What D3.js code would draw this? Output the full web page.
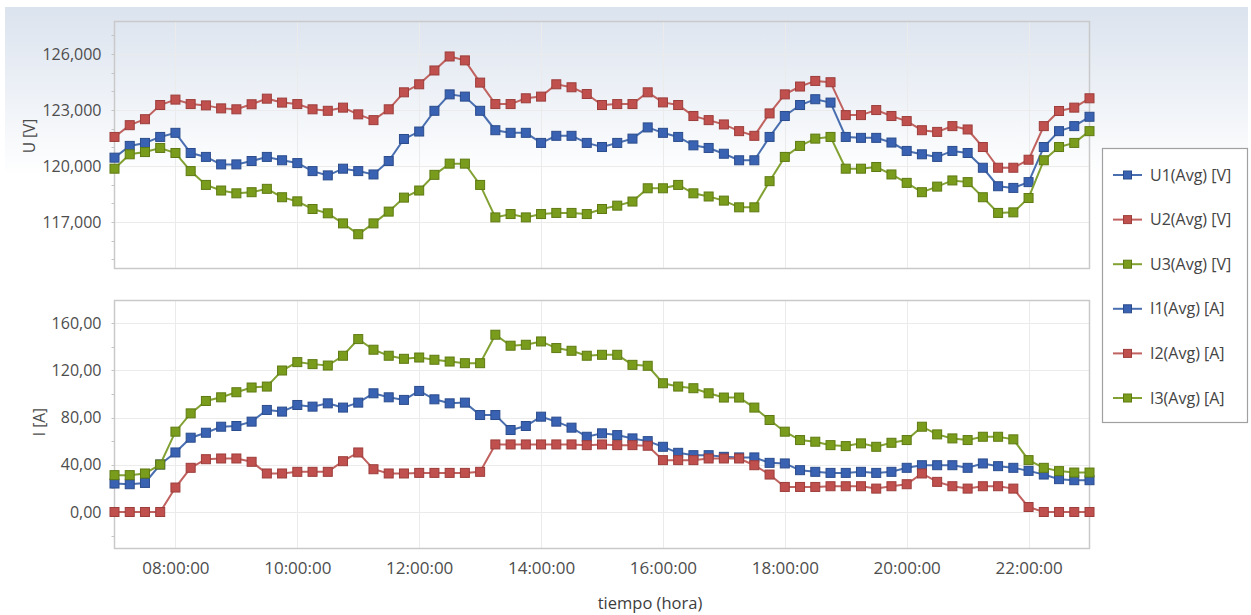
<!DOCTYPE html>
<html>
<head>
<meta charset="utf-8">
<script src="https://cdn.jsdelivr.net/npm/d3@7"></script>
<style>
  html, body { margin: 0; padding: 0; background: #ffffff; }
  svg { display: block; }
  text { font-family: "Open Sans", "Noto Sans", sans-serif; }
</style>
</head>
<body>
<svg id="chart" width="1251" height="615"></svg>
<script>
// Sample times (15-minute averages)
const times = [
  "07:00","07:15","07:30","07:45","08:00","08:15","08:30","08:45",
  "09:00","09:15","09:30","09:45","10:00","10:15","10:30","10:45",
  "11:00","11:15","11:30","11:45","12:00","12:15","12:30","12:45",
  "13:00","13:15","13:30","13:45","14:00","14:15","14:30","14:45",
  "15:00","15:15","15:30","15:45","16:00","16:15","16:30","16:45",
  "17:00","17:15","17:30","17:45","18:00","18:15","18:30","18:45",
  "19:00","19:15","19:30","19:45","20:00","20:15","20:30","20:45",
  "21:00","21:15","21:30","21:45","22:00","22:15","22:30","22:45",
  "23:00"
];

// Phase voltages [V]
const u1 = [
  120.45,121.08,121.24,121.56,121.78,120.70,120.49,120.09,
  120.09,120.27,120.49,120.31,120.16,119.73,119.50,119.86,
  119.73,119.55,120.27,121.45,121.85,122.96,123.84,123.72,
  122.96,121.92,121.78,121.78,121.24,121.62,121.62,121.24,
  121.02,121.24,121.47,122.07,121.78,121.56,121.11,120.97,
  120.66,120.31,120.31,121.56,122.68,123.27,123.58,123.40,
  121.56,121.51,121.51,121.26,120.81,120.63,120.49,120.81,
  120.70,119.91,118.92,118.83,119.14,121.02,121.87,122.14,
  122.64
];
const u2 = [
  121.56,122.19,122.51,123.27,123.56,123.32,123.25,123.09,
  123.04,123.31,123.61,123.40,123.32,123.04,122.96,123.13,
  122.77,122.46,123.04,123.95,124.38,125.12,125.87,125.66,
  124.47,123.32,123.32,123.63,123.72,124.38,124.22,123.86,
  123.27,123.32,123.32,123.95,123.41,123.27,122.68,122.46,
  122.23,121.87,121.62,122.82,123.84,124.26,124.56,124.49,
  122.73,122.73,123.00,122.68,122.41,121.92,121.83,122.14,
  121.96,121.02,119.91,119.91,120.34,122.14,122.95,123.13,
  123.63
];
const u3 = [
  119.86,120.63,120.75,120.97,120.70,119.73,118.99,118.69,
  118.54,118.60,118.78,118.33,118.11,117.70,117.47,116.93,
  116.35,116.93,117.56,118.31,118.69,119.53,120.13,120.13,
  118.99,117.25,117.43,117.25,117.43,117.49,117.49,117.43,
  117.70,117.88,118.10,118.81,118.81,118.99,118.54,118.37,
  118.15,117.79,117.79,119.19,120.49,121.08,121.47,121.56,
  119.86,119.86,119.95,119.55,119.10,118.60,118.90,119.23,
  119.14,118.33,117.49,117.52,118.29,120.31,121.02,121.24,
  121.87
];

// Phase currents [A]
const i1 = [
  24.1,23.5,24.6,40.2,50.4,62.9,67.1,72.2,
  72.8,76.5,86.4,85.0,90.6,89.2,92.0,88.4,
  92.6,100.5,97.1,94.9,102.5,95.4,92.0,92.6,
  82.1,82.1,69.4,72.8,80.7,76.5,71.4,63.7,
  66.6,65.1,62.3,60.0,55.2,50.1,48.1,48.1,
  46.7,46.2,46.2,41.6,41.1,35.4,34.0,33.1,
  33.1,34.0,33.1,34.0,37.4,39.6,39.6,39.6,
  37.4,41.1,38.8,37.4,34.8,31.7,27.8,26.9,
  26.9
];
const i2 = [
  0,0,0,0,20.7,37.4,44.7,45.3,
  45.3,42.5,32.6,32.6,34.0,34.0,34.0,43.0,
  50.4,36.2,32.6,32.6,33.1,33.1,33.1,33.1,
  34.0,57.2,57.2,57.2,57.2,57.2,57.2,56.6,
  57.2,56.6,56.6,56.1,43.9,43.9,43.9,45.3,
  45.3,45.3,39.6,31.7,21.2,21.2,21.2,21.8,
  21.8,21.8,19.8,21.8,23.5,32.6,25.5,21.8,
  19.8,21.8,21.8,19.8,4.2,0,0,0,
  0
];
const i3 = [
  31.2,31.2,32.6,40.2,68.0,83.5,94.0,97.1,
  101.4,105.4,106.2,119.8,126.9,125.2,124.0,132.3,
  146.4,137.4,132.3,129.7,130.8,128.9,127.4,126.0,
  126.0,150.1,140.8,141.6,144.4,138.8,136.5,132.3,
  133.1,133.1,124.6,123.8,109.0,106.2,104.8,100.5,
  96.9,96.9,88.4,77.9,68.0,60.9,59.5,56.6,
  55.8,58.1,55.2,58.6,60.9,72.2,65.7,62.3,
  60.9,63.7,63.7,61.5,43.9,37.4,34.6,33.4,
  33.4
];

// Axis ticks and labels
const timeTicks = ["08:00","10:00","12:00","14:00","16:00","18:00","20:00","22:00"];
const uTicks = [117, 120, 123, 126];
const iTicks = [0, 40, 80, 120, 160];
const seriesNames = ["U1(Avg) [V]","U2(Avg) [V]","U3(Avg) [V]","I1(Avg) [A]","I2(Avg) [A]","I3(Avg) [A]"];

const palette = {
  blue:  { line: "#4a6fb0", fill: "#3a62b2", edge: "#2b4c8c" },
  red:   { line: "#c0625f", fill: "#c0504d", edge: "#9c3d3b" },
  green: { line: "#82a133", fill: "#7a9c1c", edge: "#5e7a12" }
};

const parse = d3.timeParse("%H:%M");
const tDates = times.map(parse);

const esLocale = d3.formatLocale({ decimal: ",", thousands: ".", grouping: [3], currency: ["", "€"] });
const fmtU = esLocale.format(".3f");
const fmtI = esLocale.format(".2f");
const fmtT = d3.timeFormat("%H:%M:%S");

const svg = d3.select("#chart");

// Background: soft blue wash fading to white
const defs = svg.append("defs");
const bg = defs.append("linearGradient").attr("id", "bgGrad")
  .attr("x1", 0).attr("y1", 0).attr("x2", 0).attr("y2", 1);
bg.append("stop").attr("offset", "0%").attr("stop-color", "#dbe3ee");
bg.append("stop").attr("offset", "28%").attr("stop-color", "#ffffff");
bg.append("stop").attr("offset", "100%").attr("stop-color", "#ffffff");
svg.append("rect").attr("x", 5).attr("y", 7).attr("width", 1243).attr("height", 608)
  .attr("fill", "url(#bgGrad)");

const x = d3.scaleTime()
  .domain([parse("07:00"), parse("23:00")])
  .range([114.5, 1089.5]);

const panels = [
  { key: "U", top: 21, bottom: 268, domain: [114.54, 127.77], ticks: uTicks, minor: d3.range(115, 128, 1),
    fmt: fmtU, title: "U [V]", titleX: 30, titleY: 136,
    series: [ { v: u1, c: palette.blue }, { v: u2, c: palette.red }, { v: u3, c: palette.green } ] },
  { key: "I", top: 300, bottom: 548, domain: [-30.5, 179.5], ticks: iTicks, minor: d3.range(-20, 180, 20),
    fmt: fmtI, title: "I [A]", titleX: 40, titleY: 422,
    series: [ { v: i1, c: palette.blue }, { v: i2, c: palette.red }, { v: i3, c: palette.green } ] }
];

const left = 114.5, right = 1089.5;
const xTickDates = timeTicks.map(parse);

panels.forEach(p => {
  const y = d3.scaleLinear().domain(p.domain).range([p.bottom, p.top]);
  const g = svg.append("g").attr("class", "panel-" + p.key);

  // grid
  g.append("g").selectAll("line.hg").data(p.ticks).join("line")
    .attr("x1", left).attr("x2", right)
    .attr("y1", d => Math.round(y(d)) + 0.5).attr("y2", d => Math.round(y(d)) + 0.5)
    .attr("stroke", "#ebebeb").attr("stroke-width", 1);
  g.append("g").selectAll("line.vg").data(xTickDates).join("line")
    .attr("x1", d => Math.round(x(d)) + 0.5).attr("x2", d => Math.round(x(d)) + 0.5)
    .attr("y1", p.top).attr("y2", p.bottom)
    .attr("stroke", "#ebebeb").attr("stroke-width", 1);

  // frame
  g.append("rect").attr("x", left).attr("y", p.top + 0.5)
    .attr("width", right - left).attr("height", p.bottom - p.top)
    .attr("fill", "none").attr("stroke", "#c9c9c9").attr("stroke-width", 1.5);

  // y axis with minor ticks
  const yAxis = d3.axisLeft(y).tickValues(p.ticks).tickFormat(p.fmt).tickSize(0).tickPadding(13);
  const ya = g.append("g").attr("transform", `translate(${left},0)`).call(yAxis);
  ya.select(".domain").remove();
  ya.selectAll("text").attr("fill", "#4d4d4d").style("font-size", "16px");
  g.append("g").selectAll("line.mt").data(p.minor).join("line")
    .attr("x1", left - 3).attr("x2", left)
    .attr("y1", d => Math.round(y(d)) + 0.5).attr("y2", d => Math.round(y(d)) + 0.5)
    .attr("stroke", "#c4c4c4");

  // y title
  g.append("text")
    .attr("transform", `translate(${p.titleX},${p.titleY}) rotate(-90)`)
    .attr("text-anchor", "middle").attr("dy", "0.35em")
    .attr("fill", "#4d4d4d").style("font-size", "15.5px")
    .text(p.title);

  // series
  const line = d3.line().x((d, k) => x(tDates[k])).y(d => y(d));
  p.series.forEach(s => {
    g.append("path").datum(s.v)
      .attr("d", line)
      .attr("fill", "none").attr("stroke", s.c.line).attr("stroke-width", 2);
    g.append("g").selectAll("rect").data(s.v).join("rect")
      .attr("x", (d, k) => x(tDates[k]) - 4.5)
      .attr("y", d => y(d) - 4.5)
      .attr("width", 9).attr("height", 9)
      .attr("fill", s.c.fill).attr("stroke", s.c.edge).attr("stroke-width", 1);
  });

  // x axis labels only under the lower panel
  if (p.key === "I") {
    const xAxis = d3.axisBottom(x).tickValues(xTickDates).tickFormat(fmtT).tickSize(0).tickPadding(14);
    const xa = g.append("g").attr("transform", `translate(0,${p.bottom})`).call(xAxis);
    xa.select(".domain").remove();
    xa.selectAll("text").attr("fill", "#4d4d4d").style("font-size", "17px");
  }
});

svg.append("text").attr("x", 650).attr("y", 609)
  .attr("text-anchor", "middle").attr("fill", "#3d3d3d").style("font-size", "16.5px")
  .text("tiempo (hora)");

// Legend
const legend = svg.append("g");
legend.append("rect").attr("x", 1102.5).attr("y", 148.5).attr("width", 145).attr("height", 274)
  .attr("fill", "#ffffff").attr("stroke", "#a0a0a0").attr("stroke-width", 1.2);
const legendColors = [palette.blue, palette.red, palette.green, palette.blue, palette.red, palette.green];
const legendY = d3.scalePoint().domain(seriesNames).range([175, 398]);
const items = legend.selectAll("g.item").data(seriesNames).join("g")
  .attr("transform", d => `translate(0,${legendY(d)})`);
items.append("line").attr("x1", 1113).attr("x2", 1142).attr("y1", 0).attr("y2", 0)
  .attr("stroke", (d, k) => legendColors[k].line).attr("stroke-width", 2);
items.append("rect").attr("x", 1123.5).attr("y", -4).attr("width", 8).attr("height", 8)
  .attr("fill", (d, k) => legendColors[k].fill).attr("stroke", (d, k) => legendColors[k].edge);
items.append("text").attr("x", 1150).attr("y", 0).attr("dy", "0.35em")
  .attr("fill", "#444").style("font-size", "16px")
  .text(d => d);
</script>
</body>
</html>
